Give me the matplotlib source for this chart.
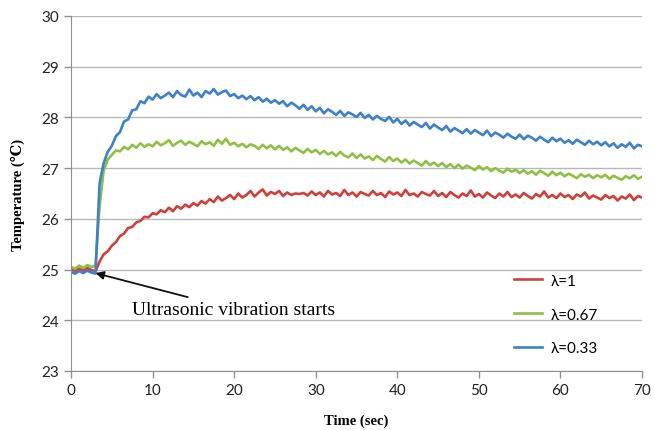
import numpy as np
import matplotlib
matplotlib.use('Agg')
import matplotlib.pyplot as plt

##############################
# sampled every 0.5 sec, t = 0 ... 70
time_step = 0.5

temp_l100 = [
    25.00, 24.97, 25.02, 24.98, 25.03, 24.99, 24.96, 25.16, 25.30, 25.36,
    25.47, 25.54, 25.66, 25.71, 25.82, 25.84, 25.93, 25.96, 26.04, 26.03,
    26.11, 26.09, 26.17, 26.13, 26.22, 26.15, 26.25, 26.20, 26.28, 26.23,
    26.31, 26.26, 26.35, 26.30, 26.39, 26.33, 26.44, 26.36, 26.41, 26.47,
    26.39, 26.50, 26.42, 26.47, 26.55, 26.44, 26.52, 26.58, 26.46, 26.53,
    26.49, 26.55, 26.45, 26.52, 26.47, 26.50, 26.49, 26.51, 26.46, 26.54,
    26.47, 26.52, 26.44, 26.55, 26.48, 26.51, 26.45, 26.57, 26.47, 26.52,
    26.44, 26.53, 26.49, 26.46, 26.55, 26.47, 26.51, 26.43, 26.54, 26.48,
    26.52, 26.45, 26.57, 26.47, 26.50, 26.44, 26.53, 26.49, 26.46, 26.55,
    26.45, 26.51, 26.43, 26.53, 26.47, 26.42, 26.50, 26.45, 26.56, 26.44,
    26.49, 26.42, 26.52, 26.46, 26.41, 26.50, 26.44, 26.53, 26.43, 26.48,
    26.42, 26.51, 26.45, 26.40, 26.49, 26.44, 26.54, 26.42, 26.47, 26.41,
    26.50, 26.43, 26.47, 26.39, 26.48, 26.44, 26.52, 26.40, 26.46, 26.42,
    26.38, 26.47, 26.41, 26.45, 26.36, 26.44, 26.40, 26.48, 26.37, 26.45,
    26.42,
]

temp_l067 = [
    25.05, 25.02, 25.08, 25.03, 25.09, 25.05, 25.08, 26.25, 26.95, 27.17,
    27.26, 27.35, 27.33, 27.42, 27.37, 27.46, 27.40, 27.49, 27.42, 27.47,
    27.43, 27.52, 27.45, 27.49, 27.55, 27.44, 27.50, 27.54, 27.46, 27.52,
    27.48, 27.43, 27.53, 27.47, 27.51, 27.44, 27.56, 27.48, 27.58, 27.46,
    27.50, 27.43, 27.48, 27.41, 27.47, 27.44, 27.38, 27.46, 27.39, 27.45,
    27.37, 27.44, 27.36, 27.41, 27.33, 27.40, 27.35, 27.30, 27.38, 27.31,
    27.36, 27.28, 27.34, 27.27, 27.31, 27.24, 27.32, 27.25, 27.21, 27.29,
    27.20, 27.27, 27.19, 27.23, 27.16, 27.24, 27.18, 27.13, 27.22, 27.14,
    27.19, 27.11, 27.17, 27.09, 27.15, 27.10, 27.05, 27.14, 27.06, 27.11,
    27.04, 27.10, 27.02, 27.08, 27.00, 27.07, 26.99, 27.05, 27.01, 26.96,
    27.04, 26.97, 27.02, 26.94, 27.00, 26.95, 26.91, 26.99, 26.93, 26.97,
    26.90, 26.96, 26.89, 26.94, 26.87, 26.95, 26.90, 26.85, 26.93, 26.86,
    26.91, 26.84, 26.89, 26.85, 26.80, 26.88, 26.83, 26.87, 26.80, 26.86,
    26.82, 26.87, 26.79, 26.85, 26.81, 26.77, 26.84, 26.80, 26.86, 26.79,
    26.83,
]

temp_l033 = [
    24.95, 24.92, 24.97, 24.93, 24.98, 24.94, 24.92, 26.70, 27.10, 27.32,
    27.44, 27.63, 27.71, 27.92, 27.96, 28.14, 28.16, 28.32, 28.28, 28.41,
    28.35, 28.46, 28.38, 28.43, 28.49, 28.40, 28.52, 28.44, 28.41, 28.55,
    28.43, 28.49, 28.40, 28.52, 28.47, 28.56, 28.45, 28.50, 28.53, 28.42,
    28.46, 28.38, 28.43, 28.36, 28.42, 28.34, 28.40, 28.31, 28.37, 28.29,
    28.34, 28.27, 28.32, 28.22, 28.29, 28.24, 28.17, 28.25, 28.15, 28.22,
    28.12, 28.19, 28.08, 28.16, 28.11, 28.05, 28.13, 28.03, 28.10, 28.06,
    28.01, 28.09, 27.99, 28.05, 27.96, 28.03, 27.97, 27.93, 28.01, 27.90,
    27.97, 27.87, 27.94, 27.84, 27.91, 27.86, 27.81, 27.89, 27.78, 27.86,
    27.80, 27.75, 27.83, 27.72, 27.79, 27.74, 27.69, 27.77, 27.68, 27.75,
    27.70, 27.65, 27.74, 27.63, 27.70, 27.66, 27.60, 27.68, 27.62, 27.58,
    27.66, 27.57, 27.64, 27.60, 27.54, 27.62, 27.56, 27.51, 27.60, 27.53,
    27.58, 27.50, 27.55, 27.48, 27.56, 27.51, 27.46, 27.54, 27.47, 27.52,
    27.45, 27.51, 27.43, 27.49, 27.40, 27.47, 27.42, 27.50, 27.39, 27.46,
    27.43,
]

labels = ['λ=1', 'λ=0.67', 'λ=0.33']
colors = ['#d0403a', '#8fbf45', '#3d80cc']
x_ticks = [0, 10, 20, 30, 40, 50, 60, 70]
y_ticks = [23, 24, 25, 26, 27, 28, 29, 30]
##############################

fig = plt.figure(figsize=(6.54, 4.31), dpi=100)
ax = fig.add_axes([0.1086, 0.1369, 0.8731, 0.8237])

for vals, lab, col in zip([temp_l100, temp_l067, temp_l033], labels, colors):
    t = np.arange(len(vals)) * time_step
    ax.plot(t, vals, color=col, lw=1.9, label=lab)

ax.set_xlim(0, 70)
ax.set_ylim(23, 30)
ax.set_xticks(x_ticks)
ax.set_yticks(y_ticks)
ax.grid(axis='y', color='#b8b8b8', lw=1.0)
ax.set_axisbelow(True)
for s in ['top', 'right']:
    ax.spines[s].set_visible(False)
for s in ['left', 'bottom']:
    ax.spines[s].set_color('#909090')
ax.tick_params(colors='#909090', length=5, width=1, labelcolor='#222222',
               labelsize=11)
for lab in ax.get_xticklabels() + ax.get_yticklabels():
    lab.set_family('Lato')

serif = ['Liberation Serif', 'DejaVu Serif']
ax.set_xlabel('Time (sec)', family=serif, weight='bold', fontsize=10.5, labelpad=12)
ax.set_ylabel('Temperature (℃)', family=serif, weight='bold', fontsize=10.5, labelpad=12)

ax.annotate('Ultrasonic vibration starts', xy=(3.0, 24.93), xytext=(7.5, 24.22),
            family=serif, fontsize=14, va='center', ha='left',
            arrowprops=dict(arrowstyle='-|>', color='#111111', lw=1.3,
                            shrinkA=2, shrinkB=0, mutation_scale=12))

leg = ax.legend(loc='lower left', bbox_to_anchor=(0.752, 0.005), frameon=False,
                labelspacing=1.3, handlelength=1.8, handletextpad=0.6,
                prop={'family': 'Lato', 'size': 11})

fig.savefig('out.png', dpi=100)
